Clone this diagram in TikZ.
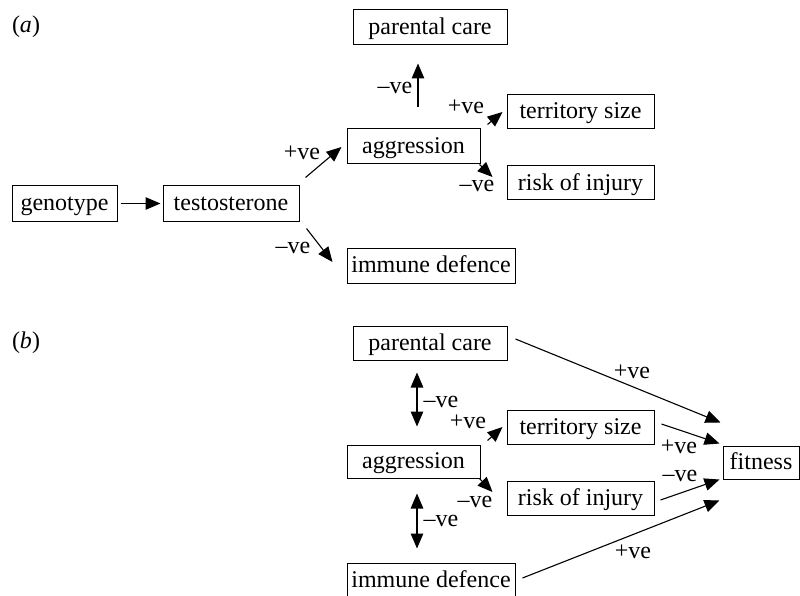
\documentclass[tikz,border=0pt]{standalone}
\usepackage{fontspec}
\setmainfont{Liberation Serif}
\usetikzlibrary{arrows.meta,calc}
\tikzset{
  box/.style={draw, line width=1pt, inner sep=0pt, minimum height=35pt, text height=19pt, text depth=5pt, font=\fontsize{24}{28}\selectfont},
  lbl/.style={inner sep=0pt, font=\fontsize{24}{28}\selectfont},
  arr/.style={line width=1.1pt, -{Triangle[length=15pt,width=12.5pt]}},
  darr/.style={line width=1.1pt, {Triangle[length=15pt,width=12.5pt]}-{Triangle[length=15pt,width=12.5pt]}},
}
\begin{document}
\begin{tikzpicture}[x=1pt,y=-1pt]
\useasboundingbox (0,0) rectangle (800,596);
\clip (0,0) rectangle (800,596);
% panel labels
\node[lbl] (pa) at (26,27) {(\textit{a})};
\node[lbl] (pb) at (26,343) {(\textit{b})};
% ---------- panel (a)
\node[box, minimum width=154pt] (apc) at (430,27.5) {parental care};
\node[box, minimum width=147pt, minimum height=34pt] (ats) at (580.5,112) {territory size};
\node[box, minimum width=133pt] (aag) at (413.5,146.5) {aggression};
\node[box, minimum width=147pt, minimum height=34pt] (ari) at (580.5,183) {risk of injury};
\node[box, minimum width=105pt] (agt) at (64.5,203.5) {genotype};
\node[box, minimum width=136pt] (ate) at (231,203.5) {testosterone};
\node[box, minimum width=168pt] (aid) at (431,265.5) {immune defence};

\draw[arr] ($(agt.east)+(3,0)$) -- ($(ate.west)+(-2,0)$);
\draw[arr] ($(ate.north east)+(6,-8)$) -- ($(aag.west)+(-5,0.5)$);
\draw[arr] ($(aag.north)+(4.5,-21)$) -- ($(apc.south)+(-12,18)$);
\draw[arr] ($(aag.north east)+(7,-4)$) -- ($(ats.west)+(-4,0)$);
\draw[arr] ($(aag.south east)+(-1,0)$) -- ($(ari.west)+(-14,-6)$);
\draw[arr] ($(ate.south east)+(7,7)$) -- ($(aid.west)+(-14,-3.5)$);

\node[lbl] (la1) at (302,153) {+ve};
\node[lbl] (la2) at (395,88) {–ve};
\node[lbl] (la3) at (466,107) {+ve};
\node[lbl] (la4) at (477,186) {–ve};
\node[lbl] (la5) at (293,248) {–ve};

% ---------- panel (b)
\node[box, minimum width=154pt, minimum height=34pt] (bpc) at (430,343) {parental care};
\node[box, minimum width=147pt, minimum height=34pt] (bts) at (580.5,427) {territory size};
\node[box, minimum width=133pt, minimum height=33pt] (bag) at (413.5,461.5) {aggression};
\node[box, minimum width=147pt, minimum height=34pt] (bri) at (580.5,498) {risk of injury};
\node[box, minimum width=168pt] (bid) at (431,580.5) {immune defence};
\node[box, minimum width=76pt, minimum height=33pt] (bfi) at (761,462.5) {fitness};

\draw[darr] ($(bpc.south)+(-13,12)$) -- ($(bag.north)+(3.5,-18)$);
\draw[darr] ($(bag.south)+(3.5,15)$) -- ($(bid.north)+(-14,-14)$);
\draw[arr] ($(bag.north east)+(7,-4)$) -- ($(bts.west)+(-4,0)$);
\draw[arr] ($(bag.south east)+(-1,0)$) -- ($(bri.west)+(-14,-6)$);
\draw[arr] ($(bpc.east)+(8,-4)$) -- ($(bfi.north west)+(-2,-23)$);
\draw[arr] ($(bts.east)+(7,-3)$) -- ($(bfi.north west)+(-3,-2)$);
\draw[arr] ($(bri.east)+(6,2)$) -- ($(bfi.south west)+(-3,0)$);
\draw[arr] ($(bid.east)+(7,-2.5)$) -- ($(bfi.south west)+(-3,21)$);

\node[lbl] (lb1) at (441,402) {–ve};
\node[lbl] (lb2) at (441,521) {–ve};
\node[lbl] (lb3) at (468,422) {+ve};
\node[lbl] (lb4) at (475,502) {–ve};
\node[lbl] (lb5) at (632,372) {+ve};
\node[lbl] (lb6) at (679,447) {+ve};
\node[lbl] (lb7) at (680,476) {–ve};
\node[lbl] (lb8) at (633,552) {+ve};
\end{tikzpicture}
\end{document}
